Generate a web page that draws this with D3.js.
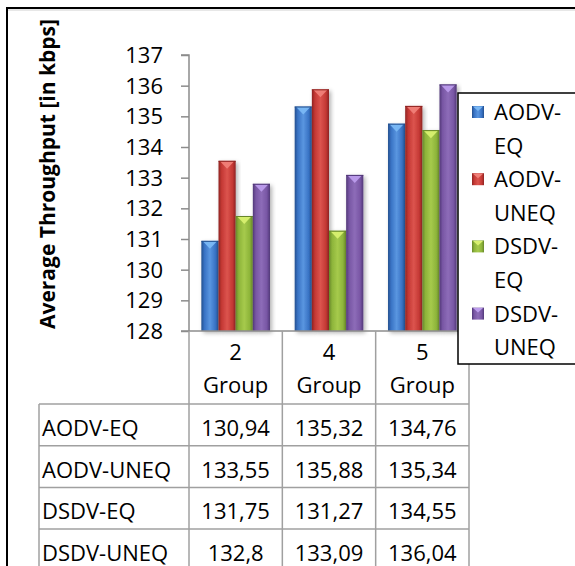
<!DOCTYPE html>
<html>
<head>
<meta charset="utf-8">
<script src="https://cdn.jsdelivr.net/npm/d3@7"></script>
<style>
  html, body { margin: 0; padding: 0; background: #fff; }
  svg { display: block; }
  text { font-family: 'Open Sans', 'Liberation Sans', sans-serif; fill: #000; }
</style>
</head>
<body>
<svg id="chart" width="575" height="566"></svg>
<script>
// ---- data ----
const categories = ["2 Group", "4 Group", "5 Group"];
const seriesNames = ["AODV-EQ", "AODV-UNEQ", "DSDV-EQ", "DSDV-UNEQ"];
const aodvEq   = [130.94, 135.32, 134.76];
const aodvUneq = [133.55, 135.88, 135.34];
const dsdvEq   = [131.75, 131.27, 134.55];
const dsdvUneq = [132.8, 133.09, 136.04];
const yTicks = [128, 129, 130, 131, 132, 133, 134, 135, 136, 137];
const yTitle = "Average Throughput [in kbps]";

const seriesValues = [aodvEq, aodvUneq, dsdvEq, dsdvUneq];
const palette = [
  { dark: "#24508e", base: "#3872c4", light: "#5a96e0", tri: "#7ab8f4" },
  { dark: "#8e2422", base: "#c43834", light: "#dc544e", tri: "#f08078" },
  { dark: "#66862a", base: "#8db43a", light: "#a6ca4c", tri: "#d8f070" },
  { dark: "#513878", base: "#7856a4", light: "#8d6cb8", tri: "#bc9cec" }
];

const svg = d3.select("#chart");
const defs = svg.append("defs");

palette.forEach((c, i) => {
  const g = defs.append("linearGradient").attr("id", "grad" + i)
    .attr("x1", "0").attr("x2", "1").attr("y1", "0").attr("y2", "0");
  g.append("stop").attr("offset", "0%").attr("stop-color", c.dark);
  g.append("stop").attr("offset", "18%").attr("stop-color", c.base);
  g.append("stop").attr("offset", "50%").attr("stop-color", c.light);
  g.append("stop").attr("offset", "82%").attr("stop-color", c.base);
  g.append("stop").attr("offset", "100%").attr("stop-color", c.dark);
});
const sh = defs.append("filter").attr("id", "shadow")
  .attr("x", "-30%").attr("y", "-10%").attr("width", "160%").attr("height", "130%");
sh.append("feDropShadow").attr("dx", 2).attr("dy", 2).attr("stdDeviation", 2)
  .attr("flood-color", "#000").attr("flood-opacity", 0.3);

// ---- scales ----
const plotLeft = 189, plotRight = 469;
const y = d3.scaleLinear().domain([128, 137]).range([331, 55]);
const x0 = d3.scaleBand().domain(categories).range([plotLeft, plotRight]).padding(0);
const x1 = d3.scaleBand().domain(seriesNames).range([0, x0.bandwidth()])
  .paddingInner(0).paddingOuter(0.72);

// outer frame
svg.append("rect").attr("x", 7).attr("y", 8).attr("width", 600).attr("height", 600)
  .attr("fill", "none").attr("stroke", "#000").attr("stroke-width", 2);
svg.append("line").attr("x1", 8).attr("x2", 575).attr("y1", 10).attr("y2", 10)
  .attr("stroke", "#cfcfcf").attr("stroke-width", 1);

// y axis
const yAxis = d3.axisLeft(y).tickValues(yTicks).tickSize(8).tickPadding(18)
  .tickFormat(d3.format("d"));
const ya = svg.append("g").attr("transform", `translate(${plotLeft},0)`).call(yAxis);
ya.select(".domain").attr("stroke", "#8c8c8c").attr("stroke-width", 1.5)
  .attr("d", `M-8,${y(137)}H0V${y(128)}`);
ya.selectAll(".tick line").attr("stroke", "#8c8c8c").attr("stroke-width", 1.5);
ya.selectAll(".tick text").attr("font-size", 22)
  .attr("font-family", "'Open Sans', sans-serif").attr("fill", "#000")
  .attr("dy", "0.34em");

// y title
svg.append("text").attr("transform", "translate(55,174) rotate(-90)")
  .attr("text-anchor", "middle").attr("font-weight", "bold").attr("font-size", 21)
  .text(yTitle);

// bars
const groups = svg.append("g").selectAll("g").data(categories).join("g")
  .attr("transform", d => `translate(${x0(d)},0)`);
groups.each(function(cat, ci) {
  const g = d3.select(this);
  seriesNames.forEach((s, si) => {
    const v = seriesValues[si][ci];
    const bx = x1(s), bw = x1.bandwidth();
    const top = y(v), bottom = y(128);
    const c = palette[si];
    const bar = g.append("g").attr("filter", "url(#shadow)");
    bar.append("rect").attr("x", bx).attr("y", top).attr("width", bw)
      .attr("height", bottom - top).attr("fill", `url(#grad${si})`);
    // top bevel triangle
    bar.append("path")
      .attr("d", `M${bx + 1.5},${top + 0.5} L${bx + bw - 1.5},${top + 0.5} L${bx + bw / 2},${top + 8} Z`)
      .attr("fill", c.tri).attr("opacity", 0.95);
    bar.append("line").attr("x1", bx).attr("x2", bx + bw)
      .attr("y1", top + 0.5).attr("y2", top + 0.5)
      .attr("stroke", c.dark).attr("stroke-width", 1);
  });
});

// baseline
svg.append("line").attr("x1", plotLeft - 8).attr("x2", plotRight)
  .attr("y1", y(128)).attr("y2", y(128))
  .attr("stroke", "#8c8c8c").attr("stroke-width", 1.5);

// ---- data table ----
const tableLeft = 39, headerTop = y(128), headerBottom = 404, rowH = 41.7;
const gridColor = "#a0a0a0";
const tg = svg.append("g");
const colEdges = [plotLeft].concat(categories.map(c => x0(c) + x0.bandwidth()));
colEdges.forEach(xe => {
  tg.append("line").attr("x1", xe).attr("x2", xe).attr("y1", headerTop)
    .attr("y2", headerBottom + rowH * seriesNames.length)
    .attr("stroke", gridColor).attr("stroke-width", 1.5);
});
tg.append("line").attr("x1", tableLeft).attr("x2", tableLeft).attr("y1", headerBottom)
  .attr("y2", headerBottom + rowH * seriesNames.length)
  .attr("stroke", gridColor).attr("stroke-width", 1.5);
for (let r = 0; r <= seriesNames.length; r++) {
  const yy = headerBottom + rowH * r;
  tg.append("line").attr("x1", tableLeft).attr("x2", plotRight).attr("y1", yy).attr("y2", yy)
    .attr("stroke", gridColor).attr("stroke-width", 1.5);
}
// header labels
categories.forEach(c => {
  const parts = c.split(" ");
  const cx = x0(c) + x0.bandwidth() / 2;
  tg.append("text").attr("x", cx).attr("y", 360).attr("text-anchor", "middle")
    .attr("font-size", 22).text(parts[0]);
  tg.append("text").attr("x", cx).attr("y", 393).attr("text-anchor", "middle")
    .attr("font-size", 22).text(parts[1]);
});
// rows
seriesNames.forEach((s, si) => {
  const by = headerBottom + rowH * si + 32;
  tg.append("text").attr("x", 42).attr("y", by).attr("font-size", 22).text(s);
  categories.forEach((c, ci) => {
    tg.append("text").attr("x", x0(c) + x0.bandwidth() / 2).attr("y", by)
      .attr("text-anchor", "middle").attr("font-size", 22)
      .text(String(seriesValues[si][ci]).replace(".", ","));
  });
});

// ---- legend ----
const lg = svg.append("g");
lg.append("rect").attr("x", 458).attr("y", 93).attr("width", 200).attr("height", 271)
  .attr("fill", "#fff").attr("stroke", "#000").attr("stroke-width", 1.5);
seriesNames.forEach((s, si) => {
  const c = palette[si];
  const idx = s.indexOf("-") + 1;
  const l1 = s.slice(0, idx), l2 = s.slice(idx);
  const c1 = 112 + 33.6 * (2 * si), c2 = c1 + 33.6;
  const sx = 472, sy = c1 - 6, ss = 12;
  lg.append("rect").attr("x", sx).attr("y", sy).attr("width", ss).attr("height", ss)
    .attr("fill", `url(#grad${si})`);
  lg.append("path").attr("d", `M${sx + 1},${sy + 0.5} L${sx + ss - 1},${sy + 0.5} L${sx + ss / 2},${sy + 5} Z`)
    .attr("fill", c.tri);
  lg.append("text").attr("x", 494).attr("y", c1 + 8).attr("font-size", 22).text(l1);
  lg.append("text").attr("x", 494).attr("y", c2 + 8).attr("font-size", 22).text(l2);
});
</script>
</body>
</html>
